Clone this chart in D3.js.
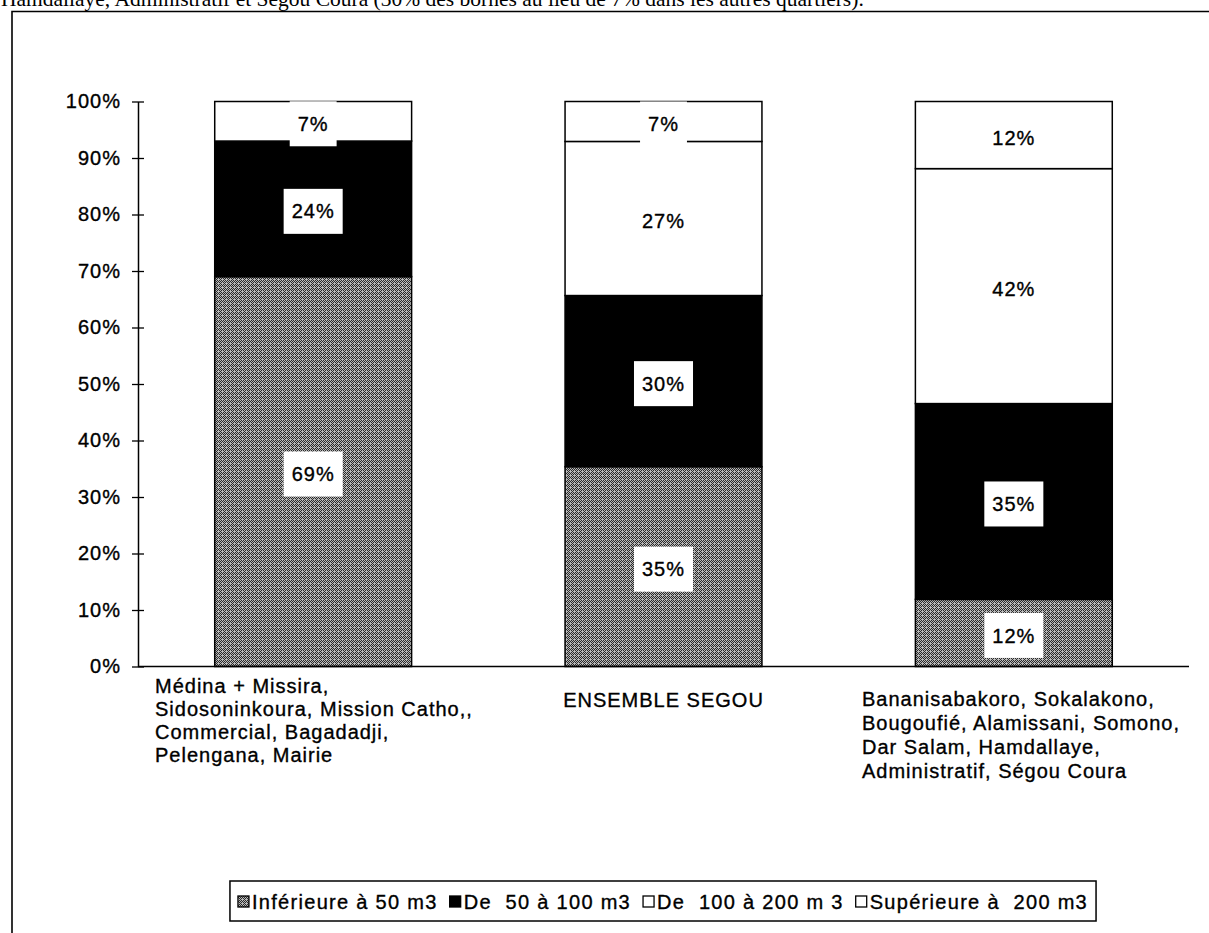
<!DOCTYPE html>
<html lang="fr">
<head>
<meta charset="utf-8">
<script src="https://cdn.jsdelivr.net/npm/d3@7"></script>
<style>
  html, body { margin: 0; padding: 0; background: #fff; }
  svg { display: block; }
  text { font-family: Arial, "Liberation Sans", sans-serif; fill: #000; }
</style>
</head>
<body>
<svg id="chart" width="1209" height="933"></svg>
<script>
// Répartition des consommations par groupe de quartiers (Ségou)
const categories = [
  ["Médina + Missira,", "Sidosoninkoura, Mission Catho,,", "Commercial, Bagadadji,", "Pelengana, Mairie"],
  ["ENSEMBLE SEGOU"],
  ["Bananisabakoro, Sokalakono,", "Bougoufié, Alamissani, Somono,", "Dar Salam, Hamdallaye,", "Administratif, Ségou Coura"]
];
const seriesNames = ["Inférieure à 50 m3", "De  50 à 100 m3", "De  100 à 200 m 3", "Supérieure à  200 m3"];
const inferieure50 = [69, 35, 12];
const de50a100 = [24, 30, 35];
const de100a200 = [0, 27, 42];
const superieure200 = [7, 7, 12];
const yTicks = [0, 0.1, 0.2, 0.3, 0.4, 0.5, 0.6, 0.7, 0.8, 0.9, 1];
const captionText = "Hamdallaye, Administratif et Ségou Coura (30% des bornes au lieu de 7% dans les autres quartiers).";

const seriesValues = [inferieure50, de50a100, de100a200, superieure200];
const rows = categories.map((c, i) => {
  const r = { idx: i };
  seriesNames.forEach((s, k) => { r[s] = seriesValues[k][i]; });
  return r;
});

const svg = d3.select("#chart");
const defs = svg.append("defs");

// stippled grey used for the lowest band
const pat = defs.append("pattern")
  .attr("id", "stipple").attr("patternUnits", "userSpaceOnUse")
  .attr("width", 4).attr("height", 4);
pat.append("rect").attr("width", 4).attr("height", 4).attr("fill", "#b8b8b8");
[[0, 3], [1, 2], [2, 1], [3, 0], [1, 0], [3, 2], [0, 1]].forEach(([px, py]) => {
  pat.append("rect").attr("x", px).attr("y", py).attr("width", 1).attr("height", 1).attr("fill", "#2a2a2a");
});

const fills = ["url(#stipple)", "#000", "#fff", "#fff"];
const color = d3.scaleOrdinal().domain(seriesNames).range(fills);

// caption line above the frame
svg.append("text")
  .attr("x", 1).attr("y", 6)
  .style("font-family", "'Liberation Serif', 'Times New Roman', serif")
  .style("font-size", "21.5px")
  .text(captionText);

// outer frame
svg.append("path")
  .attr("d", "M12,933 L12,11.5 L1209,11.5")
  .attr("fill", "none").attr("stroke", "#000").attr("stroke-width", 1.6);

const x = d3.scaleBand()
  .domain(d3.range(categories.length))
  .range([138, 1189])
  .paddingInner(0.438)
  .paddingOuter(0.219);

const y = d3.scaleLinear().domain([0, 1]).range([666.5, 101.5]);

const stack = d3.stack().keys(seriesNames).offset(d3.stackOffsetExpand);
const layers = stack(rows);

const textStyle = sel => sel
  .style("font-size", "20px")
  .style("letter-spacing", "1px")
  .attr("stroke", "#000").attr("stroke-width", 0.35);

// bars
const layerG = svg.append("g").selectAll("g").data(layers).join("g")
  .attr("fill", d => color(d.key));
layerG.selectAll("rect").data(d => d.map(v => ({ v, key: d.key })))
  .join("rect")
  .filter(d => d.v[1] - d.v[0] > 0)
  .attr("x", d => x(d.v.data.idx))
  .attr("y", d => y(d.v[1]))
  .attr("width", x.bandwidth())
  .attr("height", d => y(d.v[0]) - y(d.v[1]))
  .attr("stroke", "#000").attr("stroke-width", 1.5);

// y axis with ticks crossing the line
const yAxis = svg.append("g").attr("transform", "translate(138,0)")
  .call(d3.axisLeft(y).tickValues(yTicks).tickFormat(d3.format(".0%"))
    .tickSize(6).tickSizeOuter(0).tickPadding(11));
yAxis.select(".domain").attr("stroke-width", 1.5);
yAxis.selectAll(".tick line").attr("x1", 6).attr("stroke-width", 1.3);
yAxis.selectAll(".tick text")
  .style("font-family", "Arial, 'Liberation Sans', sans-serif")
  .call(textStyle);

// x axis baseline
svg.append("line")
  .attr("x1", 138).attr("x2", 1189)
  .attr("y1", y(0)).attr("y2", y(0))
  .attr("stroke", "#000").attr("stroke-width", 1.5);

// value labels on white boxes
const labelData = [];
layers.forEach((layer, k) => {
  layer.forEach((v, i) => {
    const val = seriesValues[k][i];
    if (val > 0) labelData.push({ i, val, mid: (v[0] + v[1]) / 2 });
  });
});
const lab = svg.append("g").selectAll("g").data(labelData).join("g")
  .attr("transform", d => `translate(${x(d.i) + x.bandwidth() / 2},${y(d.mid)})`);
lab.append("text")
  .attr("text-anchor", "middle")
  .attr("dy", "0.38em")
  .attr("y", 2)
  .call(textStyle)
  .text(d => d.val + "%");
lab.each(function () {
  const g = d3.select(this);
  const w = g.select("text").node().getComputedTextLength();
  g.insert("rect", "text")
    .attr("x", -w / 2 - 8).attr("y", -20)
    .attr("width", w + 16).attr("height", 45)
    .attr("fill", "#fff");
});

// category labels
const catG = svg.append("g");
const lineGap = [23, 23, 24];
const firstBase = [693, 707, 706];
const leftX = [155, null, 862];
categories.forEach((lines, i) => {
  const centred = lines.length === 1;
  const t = catG.append("text")
    .attr("text-anchor", centred ? "middle" : "start")
    .call(textStyle);
  const x0 = centred ? x(i) + x.bandwidth() / 2 : leftX[i];
  lines.forEach((ln, j) => {
    t.append("tspan").attr("x", x0).attr("y", firstBase[i] + j * lineGap[i]).text(ln);
  });
});

// legend
const leg = svg.append("g");
const legItems = leg.selectAll("g").data(seriesNames).join("g");
legItems.append("rect")
  .attr("width", 11).attr("height", 11)
  .attr("y", 896)
  .attr("fill", d => color(d))
  .attr("stroke", "#000").attr("stroke-width", 1.3);
legItems.append("text")
  .attr("y", 909)
  .call(textStyle)
  .style("letter-spacing", "1.3px")
  .style("white-space", "pre")
  .text(d => d);
const widths = [];
legItems.select("text").each(function () { widths.push(this.getComputedTextLength()); });
const itemW = widths.map(w => 11 + 3 + w);
const gap = 12;
const total = d3.sum(itemW) + gap * (itemW.length - 1);
let cx = 663 - total / 2;
legItems.each(function (d, i) {
  const g = d3.select(this);
  g.select("rect").attr("x", cx);
  g.select("text").attr("x", cx + 14);
  cx += itemW[i] + gap;
});
leg.insert("rect", "g")
  .attr("x", 663 - total / 2 - 8).attr("y", 881)
  .attr("width", total + 16).attr("height", 40)
  .attr("fill", "#fff").attr("stroke", "#000").attr("stroke-width", 1.5);
</script>
</body>
</html>
